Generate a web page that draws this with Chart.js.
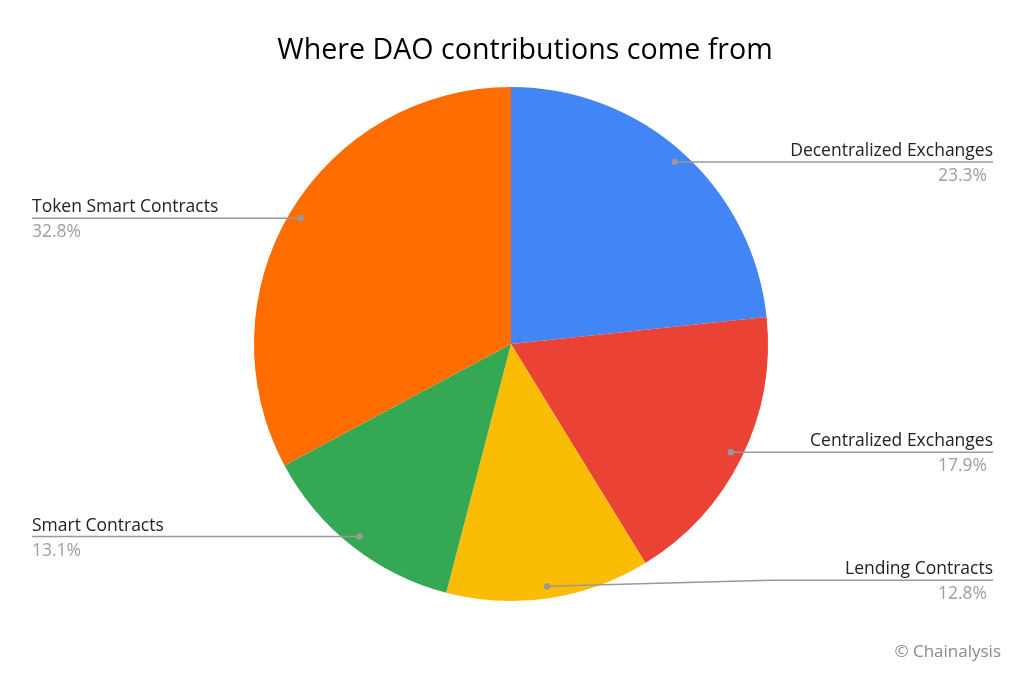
<!DOCTYPE html>
<html>
<head>
<meta charset="utf-8">
<script src="https://cdn.jsdelivr.net/npm/chart.js@4"></script>
<style>
  body { margin: 0; background: #fff; }
  #wrap { width: 1024px; height: 674px; }
</style>
</head>
<body>
<div id="wrap"><canvas id="pie" width="1024" height="674"></canvas></div>
<script>
const categories = ["Decentralized Exchanges", "Centralized Exchanges", "Lending Contracts", "Smart Contracts", "Token Smart Contracts"];
const shares = [23.3, 17.9, 12.8, 13.1, 32.8];
const sliceColors = ["#4285F4", "#EA4335", "#FBBC04", "#34A853", "#FF6D01"];
// nudges for leader lines that google bends to avoid crowding
const lineNudge = [0, 0, -6, 0, 0];

const FONT = "'Open Sans', sans-serif";

const titlePlugin = {
  id: "bigTitle",
  afterDraw(chart) {
    const ctx = chart.ctx;
    ctx.save();
    ctx.fillStyle = "#000";
    ctx.font = "28.6px " + FONT;
    ctx.textAlign = "center";
    ctx.textBaseline = "alphabetic";
    ctx.fillText("Where DAO contributions come from", 525, 59);
    ctx.font = "17px " + FONT;
    ctx.fillStyle = "#8a8a8a";
    ctx.textAlign = "right";
    ctx.fillText("© Chainalysis", 1001, 657);
    ctx.restore();
  }
};

const leaderPlugin = {
  id: "leaders",
  afterDatasetsDraw(chart) {
    const ctx = chart.ctx;
    const arcs = chart.getDatasetMeta(0).data;
    ctx.save();
    arcs.forEach((arc, i) => {
      const mid = (arc.startAngle + arc.endAngle) / 2;
      const r = arc.outerRadius - 12;
      const dx = arc.x + Math.cos(mid) * r;
      const dy = arc.y + Math.sin(mid) * r;
      const right = Math.cos(mid) >= 0;
      const ly = dy + lineNudge[i];
      const endX = right ? 993 : 32;
      const bendX = right ? Math.max(dx + 25, 770) : dx;

      ctx.strokeStyle = "#999";
      ctx.lineWidth = 1.5;
      ctx.beginPath();
      ctx.moveTo(dx, dy);
      if (lineNudge[i] !== 0) {
        ctx.lineTo(bendX, ly);
      }
      ctx.lineTo(endX, ly);
      ctx.stroke();

      ctx.fillStyle = "#999";
      ctx.beginPath();
      ctx.arc(dx, dy, 3.2, 0, Math.PI * 2);
      ctx.fill();

      ctx.textAlign = right ? "right" : "left";
      ctx.textBaseline = "alphabetic";
      ctx.font = "17.5px " + FONT;
      ctx.fillStyle = "#222";
      ctx.fillText(categories[i], endX, ly - 6);
      ctx.fillStyle = "#9e9e9e";
      ctx.fillText(shares[i].toFixed(1) + "%", right ? endX - 6 : endX, ly + 19);
    });
    ctx.restore();
  }
};

new Chart(document.getElementById("pie"), {
  type: "pie",
  data: {
    labels: categories,
    datasets: [{
      data: shares,
      backgroundColor: sliceColors,
      borderWidth: 0,
      hoverOffset: 0,
      offset: 0
    }]
  },
  options: {
    responsive: false,
    animation: false,
    events: [],
    layout: { padding: { top: 87, bottom: 73, left: 0, right: 2 } },
    plugins: {
      legend: { display: false },
      tooltip: { enabled: false },
      title: { display: false }
    }
  },
  plugins: [leaderPlugin, titlePlugin]
});
</script>
</body>
</html>
